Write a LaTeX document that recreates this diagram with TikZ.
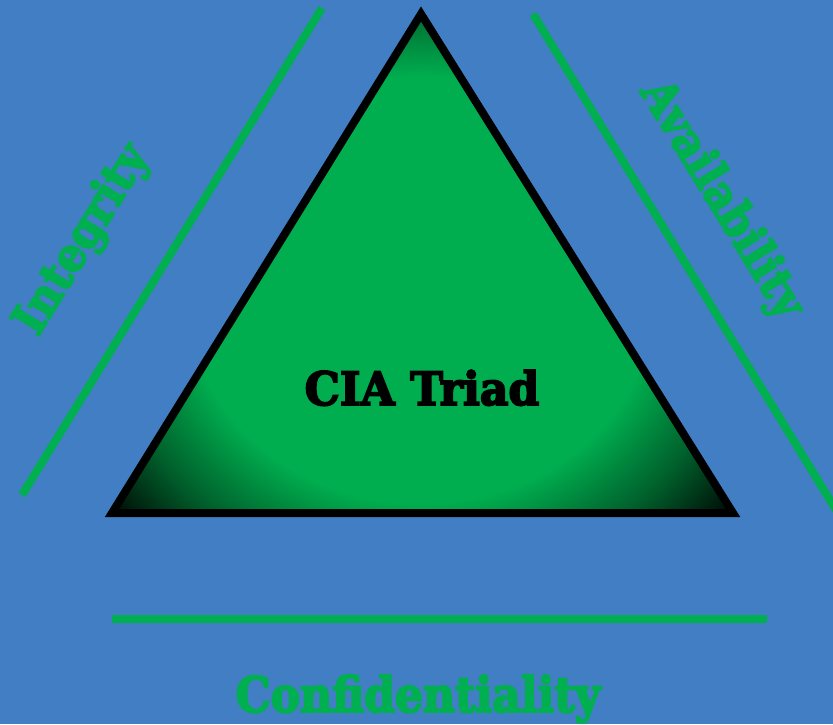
\documentclass[tikz,border=0pt]{standalone}
\usepackage{fontspec}
\setmainfont{DejaVu Serif}
\newfontfamily\heavy[FakeBold=4]{DejaVu Serif Bold}
\usetikzlibrary{calc}
\definecolor{bgblue}{RGB}{66,126,196}
\definecolor{cgreen}{RGB}{0,176,80}
\definecolor{trigreen}{RGB}{0,174,79}
\pgfdeclareradialshading{trishade}{\pgfpoint{0bp}{0bp}}{color(0bp)=(trigreen); color(14bp)=(trigreen); color(19bp)=(trigreen!55!black); color(24bp)=(black); color(50bp)=(black)}
\tikzset{
  sideline/.style={draw=cgreen, line width=8pt},
  sidelabel/.style={text=cgreen, font=\heavy\fontsize{47}{52}\selectfont, inner sep=0pt},
}
\begin{document}
\begin{tikzpicture}[x=1pt,y=-1pt]
\fill[bgblue] (0,0) rectangle (833,724);
\useasboundingbox (0,0) rectangle (833,724);
% triangle
\coordinate (A) at (421,14);
\coordinate (B) at (112,513);
\coordinate (C) at (733,513);
\begin{scope}
\clip (A) -- (B) -- (C) -- cycle;
\shade[shading=trishade] (421,290) ellipse [x radius=420pt, y radius=380pt];
\end{scope}
\draw[line width=8pt, line join=miter] (A) -- (B) -- (C) -- cycle;
\node[font=\heavy\fontsize{46}{52}\selectfont, anchor=base, inner sep=0pt] (title) at (422,405) {\scalebox{0.96}[1]{CIA Triad}};
% side lines
\coordinate (L1) at (22,495);
\coordinate (L2) at (322,8);
\coordinate (R1) at (533,14);
\coordinate (R2) at (836,510);
\coordinate (D1) at (112,619);
\coordinate (D2) at (767,619);
\draw[sideline] (L1) -- (L2);
\draw[sideline] (R1) -- (R2);
\draw[sideline] (D1) -- (D2);
% labels
\node[sidelabel, rotate=58.4] (integ) at (83,240) {\scalebox{0.92}[1]{Integrity}};
\node[sidelabel, rotate=-58.4] (avail) at (721,200) {\scalebox{0.92}[1]{Availability}};
\node[sidelabel, font=\heavy\fontsize{49}{55}\selectfont, anchor=base] (conf) at (418,712) {\scalebox{0.9}[1]{Confidentiality}};
\end{tikzpicture}
\end{document}
